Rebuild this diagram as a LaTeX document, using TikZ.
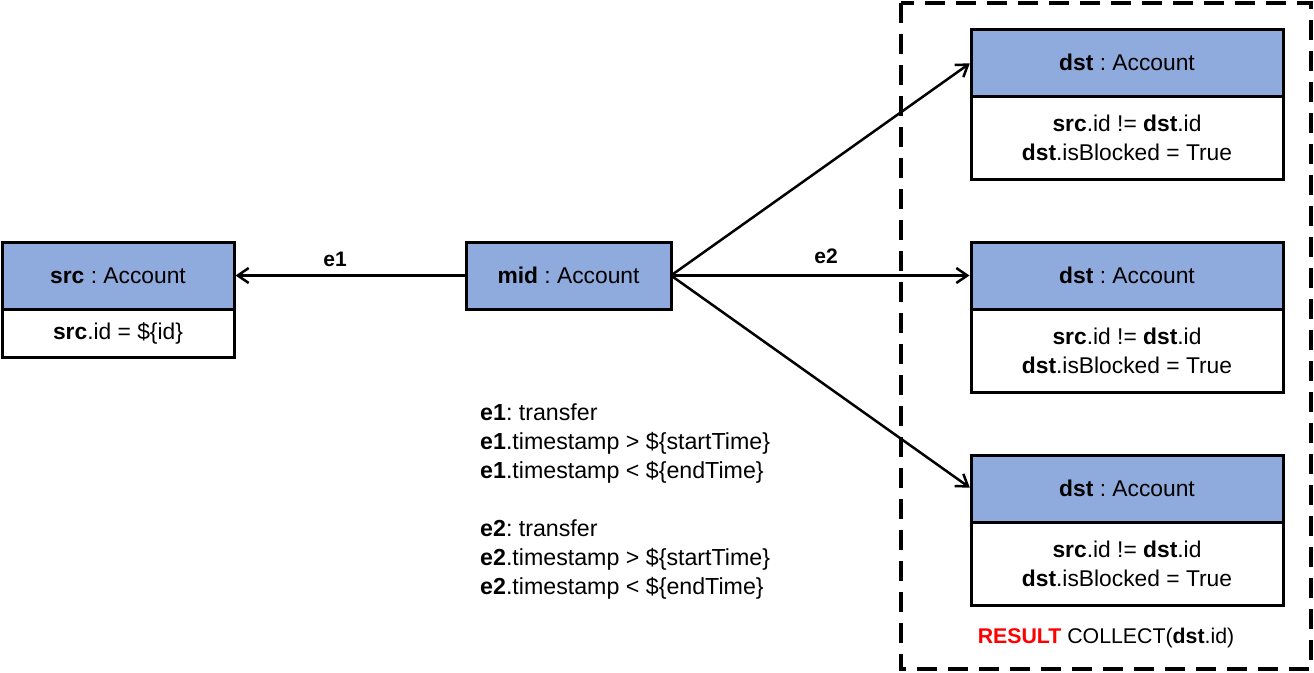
\documentclass[tikz,border=0pt]{standalone}
\usepackage{fontspec}
\setmainfont{Liberation Sans}
\usetikzlibrary{arrows.meta}
\definecolor{hdrblue}{HTML}{8FAADC}
\definecolor{resred}{HTML}{FF0000}
\frenchspacing
\tikzset{
  box/.style={draw=black, line width=3pt, rectangle, inner sep=0pt, outer sep=0pt, align=center, font=\fontsize{22.8}{29}\selectfont},
  hdr/.style={box, fill=hdrblue, minimum height=67pt},
  body/.style={box, fill=white},
  edge/.style={line width=2.5pt, shorten >=1.5pt, shorten <=1.5pt, -{Straight Barb[length=11pt, width=15pt, line width=2.5pt]}},
  lbl/.style={font=\fontsize{21}{29}\selectfont\bfseries, inner sep=0pt},
  note/.style={font=\fontsize{23.2}{29}\selectfont, align=left, inner sep=0pt, anchor=north west},
}
\begin{document}
\begin{tikzpicture}[x=1pt, y=-1pt]
\useasboundingbox (0,0) rectangle (1314,672);

% result frame
\draw[line width=4pt, dash pattern=on 20pt off 11pt] (901,3) rectangle (1311,669);

% source account
\node[hdr, minimum width=232pt] (srcH) at (118,275.5) {\textbf{src} : Account};
\node[body, minimum width=232pt, minimum height=48pt, anchor=north] (srcB) at (srcH.south) {\textbf{src}.id = \$\{id\}};

% intermediate account
\node[hdr, minimum width=205pt] (mid) at (568.5,275.5) {\textbf{mid} : Account};

% destination accounts
\foreach \i/\y in {1/62.5, 2/275.5, 3/488.5}{
  \node[hdr, minimum width=312pt] (dstH\i) at (1127,\y) {\textbf{dst} : Account};
  \node[body, minimum width=312pt, minimum height=83pt, anchor=north] (dstB\i) at (dstH\i.south)
    {\textbf{src}.id != \textbf{dst}.id\\\textbf{dst}.isBlocked = True};
}

% edges
\draw[edge] (mid.west) -- (srcH.east);
\draw[edge] (mid.east) -- (dstH1.west);
\draw[edge] (mid.east) -- (dstH2.west);
\draw[edge] (mid.east) -- (dstH3.west);

\node[lbl] (e1) at (335,259) {e1};
\node[lbl] (e2) at (826,256) {e2};

% edge conditions
\node[note] (cond1) at (480,404) {\textbf{e1}: transfer\\\textbf{e1}.timestamp > \$\{startTime\}\\\textbf{e1}.timestamp < \$\{endTime\}};
\node[note] (cond2) at (480,519.5) {\textbf{e2}: transfer\\\textbf{e2}.timestamp > \$\{startTime\}\\\textbf{e2}.timestamp < \$\{endTime\}};

% result
\node[font=\fontsize{21.3}{24}\selectfont, inner sep=0pt] (res) at (1106,638)
  {\textcolor{resred}{\textbf{RESULT}} COLLECT(\textbf{dst}.id)};
\end{tikzpicture}
\end{document}
